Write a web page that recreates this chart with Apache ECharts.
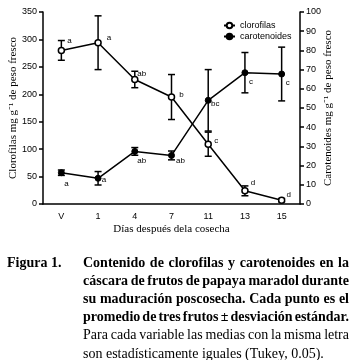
<!DOCTYPE html>
<html>
<head>
<meta charset="utf-8">
<script src="https://cdn.jsdelivr.net/npm/echarts@6/dist/echarts.min.js"></script>
<style>
html, body { margin: 0; padding: 0; background: #fff; }
#grafica { width: 351px; height: 360px; }
</style>
</head>
<body>
<div id="grafica"></div>
<script>
// datos
var dias = ['V', '1', '4', '7', '11', '13', '15'];
var clorofilas = [280, 294, 227, 195, 109, 24, 7];
var clorofilasDE = [18, 49, 15, 41, 22, 9, 3];
var clorofilasLetras = ['a', 'a', 'ab', 'b', 'c', 'd', 'd'];
var carotenoides = [16.3, 13.4, 27.4, 25.3, 54, 68.4, 67.7];
var carotenoidesDE = [1.4, 3.5, 2, 2.3, 16, 10.5, 14];
var carotenoidesLetras = ['a', 'a', 'ab', 'ab', 'bc', 'c', 'c'];
var ticksClorofilas = { min: 0, max: 350, interval: 50 };
var ticksCarotenoides = { min: 0, max: 100, interval: 10 };

// desplazamiento de cada letra respecto a su punto
var offClorofilas = [[8, -10], [11, -5], [7, -6], [10, -2], [8, -3], [8, -8], [7, -5]];
var offCarotenoides = [[5, 11], [6, 2], [7, 9], [9, 5], [7, 3], [6, 9], [6, 9]];

var leyenda = [
    { texto: 'Contenido de clorofilas y carotenoides en la', negrita: true, just: true },
    { texto: 'cáscara de frutos de papaya maradol durante', negrita: true, just: true },
    { texto: 'su maduración poscosecha. Cada punto es el', negrita: true, just: true },
    { texto: 'promedio de tres frutos ± desviación estándar.', negrita: true, just: true },
    { texto: 'Para cada variable las medias con la misma letra', negrita: false, just: true },
    { texto: 'son estadísticamente iguales (Tukey, 0.05).', negrita: false, just: false }
];

var sans = '"Liberation Sans Narrow", "Liberation Sans", Arial, sans-serif';
var serif = '"Liberation Serif", "Times New Roman", serif';

(function () {
    var myChart = echarts.init(document.getElementById('grafica'));

    // barras de error
    function barraError(params, api) {
        var i = api.value(0);
        var arriba = api.coord([i, api.value(2)]);
        var abajo = api.coord([i, api.value(1)]);
        var w = 3.5;
        var st = { stroke: '#000', lineWidth: 1.5 };
        return {
            type: 'group',
            children: [
                { type: 'line', shape: { x1: arriba[0], y1: arriba[1], x2: abajo[0], y2: abajo[1] }, style: st },
                { type: 'line', shape: { x1: arriba[0] - w, y1: arriba[1], x2: arriba[0] + w, y2: arriba[1] }, style: st },
                { type: 'line', shape: { x1: abajo[0] - w, y1: abajo[1], x2: abajo[0] + w, y2: abajo[1] }, style: st }
            ]
        };
    }
    function datosError(medias, de) {
        return medias.map(function (m, i) { return [i, m - de[i], m + de[i]]; });
    }
    function datosConLetra(medias, letras, offs) {
        return medias.map(function (m, i) {
            return {
                value: m,
                label: { show: true, position: 'inside', offset: offs[i], formatter: letras[i] }
            };
        });
    }

    // texto del pie de figura, justificado
    var ctx = document.createElement('canvas').getContext('2d');
    var graficos = [];
    var izq = 83, der = 349, y0 = 263, paso = 18.2, tam = 14;
    graficos.push({
        type: 'text', x: 7, y: y0,
        style: { text: 'Figura 1.', font: 'bold ' + tam + 'px ' + serif, fill: '#000', verticalAlign: 'middle' }
    });
    leyenda.forEach(function (linea, k) {
        var font = (linea.negrita ? 'bold ' : '') + tam + 'px ' + serif;
        ctx.font = font;
        var palabras = linea.texto.split(' ');
        var anchos = palabras.map(function (p) { return ctx.measureText(p).width; });
        var total = anchos.reduce(function (a, b) { return a + b; }, 0);
        var hueco = linea.just ? (der - izq - total) / (palabras.length - 1) : ctx.measureText(' ').width;
        var x = izq;
        palabras.forEach(function (p, j) {
            graficos.push({
                type: 'text', x: x, y: y0 + k * paso,
                style: { text: p, font: font, fill: '#000', verticalAlign: 'middle' }
            });
            x += anchos[j] + hueco;
        });
    });

    var ejeY = {
        type: 'value',
        nameLocation: 'middle',
        nameRotate: 90,
        nameMoveOverlap: false,
        nameTextStyle: { fontFamily: serif, fontSize: 11, color: '#000' },
        axisLine: { show: true, lineStyle: { color: '#000', width: 1.5 } },
        axisTick: { show: true, length: 4, lineStyle: { color: '#000', width: 1.5 } },
        axisLabel: { color: '#000', fontFamily: sans, fontSize: 9, margin: 6 },
        splitLine: { show: false }
    };

    var option = {
        animation: false,
        textStyle: { fontFamily: sans },
        grid: { left: 43, right: 51, top: 12, bottom: 156, containLabel: false, outerBoundsMode: 'none' },
        legend: {
            orient: 'vertical', left: 218, top: 16,
            itemWidth: 11, itemHeight: 7, itemGap: 2,
            textStyle: { fontFamily: sans, fontSize: 9, color: '#000' },
            data: ['clorofilas', 'carotenoides']
        },
        xAxis: {
            type: 'category',
            data: dias,
            name: 'Días después dela cosecha',
            nameLocation: 'middle',
            nameGap: 20,
            nameMoveOverlap: false,
            nameTextStyle: { fontFamily: serif, fontSize: 11, color: '#000' },
            axisLine: { lineStyle: { color: '#000', width: 1.5 } },
            axisTick: { length: 4, lineStyle: { color: '#000', width: 1.5 } },
            axisLabel: { color: '#000', fontFamily: sans, fontSize: 9, margin: 8 }
        },
        yAxis: [
            Object.assign({}, ejeY, {
                position: 'left', name: 'Clorofilas mg g⁻¹ de peso fresco', nameGap: 24,
                min: ticksClorofilas.min, max: ticksClorofilas.max, interval: ticksClorofilas.interval
            }),
            Object.assign({}, ejeY, {
                position: 'right', name: 'Carotenoides mg g⁻¹ de peso fresco', nameGap: 23,
                min: ticksCarotenoides.min, max: ticksCarotenoides.max, interval: ticksCarotenoides.interval
            })
        ],
        series: [
            {
                name: 'clorofilas-de', type: 'custom', yAxisIndex: 0,
                renderItem: barraError, data: datosError(clorofilas, clorofilasDE), z: 1
            },
            {
                name: 'carotenoides-de', type: 'custom', yAxisIndex: 1,
                renderItem: barraError, data: datosError(carotenoides, carotenoidesDE), z: 1
            },
            {
                name: 'clorofilas', type: 'line', yAxisIndex: 0,
                data: datosConLetra(clorofilas, clorofilasLetras, offClorofilas),
                symbol: 'circle', symbolSize: 6, showAllSymbol: true,
                lineStyle: { color: '#000', width: 1.5 },
                itemStyle: { color: '#fff', borderColor: '#000', borderWidth: 1.5 },
                label: { color: '#000', fontSize: 8, fontFamily: sans },
                z: 3
            },
            {
                name: 'carotenoides', type: 'line', yAxisIndex: 1,
                data: datosConLetra(carotenoides, carotenoidesLetras, offCarotenoides),
                symbol: 'circle', symbolSize: 6, showAllSymbol: true,
                lineStyle: { color: '#000', width: 1.5 },
                itemStyle: { color: '#000', borderColor: '#000', borderWidth: 1 },
                label: { color: '#000', fontSize: 8, fontFamily: sans },
                z: 3
            }
        ],
        graphic: graficos
    };
    myChart.setOption(option);
    window.addEventListener('resize', function () {
        myChart.resize();
    });
})();
</script>
</body>
</html>
